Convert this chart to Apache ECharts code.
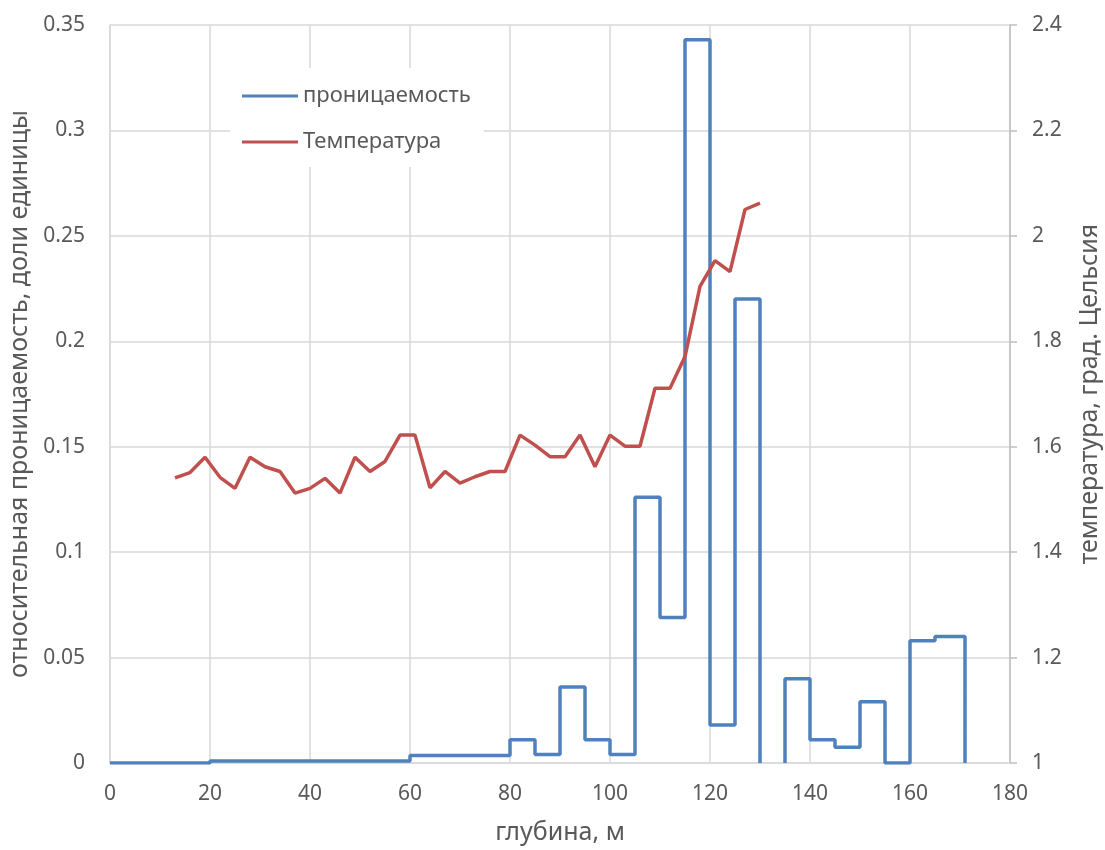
<!DOCTYPE html>
<html>
<head>
<meta charset="utf-8">
<script src="https://cdn.jsdelivr.net/npm/echarts@6/dist/echarts.min.js"></script>
<style>
  html, body { margin: 0; padding: 0; background: #fff; }
  #chart { width: 1105px; height: 850px; }
</style>
</head>
<body>
<div id="chart"></div>
<script>
// проницаемость: ступенчатая, интервалы по глубине (null = нет данных)
const permEdges = [0, 20, 60, 80, 85, 90, 95, 100, 105, 110, 115, 120, 125, 130, 135, 140, 145, 150, 155, 160, 165, 171]
const permValues = [0, 0.001, 0.0035, 0.011, 0.004, 0.036, 0.011, 0.004, 0.126, 0.069, 0.343, 0.018, 0.22, null, 0.04, 0.011, 0.0075, 0.029, 0, 0.058, 0.06]

// температура
const tempDepth = [13, 16, 19, 22, 25, 28, 31, 34, 37, 40, 43, 46, 49, 52, 55, 58, 61, 64, 67, 70,
    73, 76, 79, 82, 85, 88, 91, 94, 97, 100, 103, 106, 109, 112, 115, 118, 121, 124, 127, 130]
const tempValues = [1.541, 1.551, 1.58, 1.542, 1.521, 1.58, 1.562, 1.553, 1.512, 1.521, 1.54, 1.512, 1.58, 1.553, 1.572, 1.622, 1.622, 1.522, 1.553, 1.531,
    1.543, 1.553, 1.553, 1.622, 1.603, 1.581, 1.581, 1.622, 1.562, 1.622, 1.601, 1.601, 1.711, 1.711, 1.771, 1.904, 1.953, 1.932, 2.05, 2.062]

const xTicks = { min: 0, max: 180, interval: 20 }
const leftTicks = { min: 0, max: 0.35, interval: 0.05 }
const rightTicks = { min: 1, max: 2.4, interval: 0.2 }

// углы ступенчатой линии
const permPoints = []
let prevNull = false
for (let i = 0; i < permValues.length; i++) {
    const v = permValues[i]
    if (v === null) {
        permPoints.push([permEdges[i], 0], [permEdges[i], null])
        prevNull = true
        continue
    }
    if (prevNull) permPoints.push([permEdges[i], 0])
    prevNull = false
    permPoints.push([permEdges[i], v], [permEdges[i + 1], v])
}
permPoints.push([permEdges[permEdges.length - 1], 0])

const font = 'Noto Sans'
const txt = '#595959'
const gridColor = '#d9d9d9'

const chart = echarts.init(document.getElementById('chart'))
chart.setOption({
    animation: false,
    textStyle: { fontFamily: font },
    grid: { left: 110, right: 95, top: 25, bottom: 87, outerBoundsMode: 'none' },
    legend: {
        orient: 'vertical',
        left: 230,
        top: 68,
        padding: [16, 13, 13, 12],
        backgroundColor: '#fff',
        icon: 'rect',
        itemWidth: 56,
        itemHeight: 3,
        itemGap: 22,
        textStyle: { fontFamily: font, fontSize: 22, color: txt, lineHeight: 24 },
        data: ['проницаемость', 'Температура']
    },
    xAxis: {
        type: 'value',
        ...xTicks,
        name: 'глубина, м',
        nameLocation: 'middle',
        nameGap: 57,
        nameTextStyle: { fontSize: 25, color: txt },
        axisLine: { show: true, lineStyle: { color: gridColor, width: 1.5 } },
        axisTick: { show: false },
        axisLabel: { fontSize: 21, color: txt, margin: 21 },
        splitLine: { show: true, lineStyle: { color: gridColor, width: 1.5 } }
    },
    yAxis: [
        {
            type: 'value',
            ...leftTicks,
            name: 'относительная проницаемость, доли единицы',
            nameLocation: 'middle',
            nameGap: 77,
            nameTextStyle: { fontSize: 25, color: txt },
            axisLine: { show: true, lineStyle: { color: gridColor, width: 1.5 } },
            axisTick: { show: false },
            axisLabel: { fontSize: 21, color: txt, margin: 25 },
            splitLine: { show: true, lineStyle: { color: gridColor, width: 1.5 } }
        },
        {
            type: 'value',
            ...rightTicks,
            position: 'right',
            name: 'температура, град. Цельсия',
            nameLocation: 'middle',
            nameGap: 67,
            nameRotate: 90,
            nameTextStyle: { fontSize: 25, color: txt },
            axisLine: { show: true, lineStyle: { color: '#bfbfbf', width: 1.5 } },
            axisTick: { show: true, inside: false, length: 7, lineStyle: { color: '#bfbfbf', width: 1.5 } },
            axisLabel: { fontSize: 21, color: txt, margin: 22 },
            splitLine: { show: false }
        }
    ],
    series: [
        {
            name: 'проницаемость',
            type: 'line',
            yAxisIndex: 0,
            data: permPoints,
            showSymbol: false,
            connectNulls: false,
            color: '#4f81bd',
            lineStyle: { width: 3.5, color: '#4f81bd' },
            z: 3
        },
        {
            name: 'Температура',
            type: 'line',
            yAxisIndex: 1,
            data: tempDepth.map((d, i) => [d, tempValues[i]]),
            showSymbol: false,
            color: '#c0504d',
            lineStyle: { width: 3.5, color: '#c0504d' },
            z: 4
        }
    ]
})
</script>
</body>
</html>
